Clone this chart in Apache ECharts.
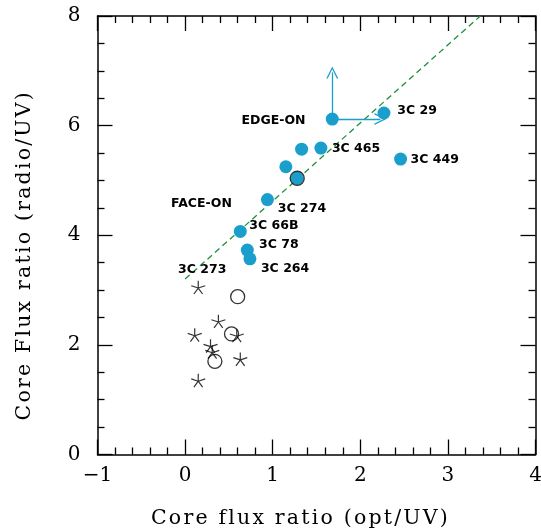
<!DOCTYPE html>
<html><head><meta charset="utf-8">
<script src="https://cdn.jsdelivr.net/npm/echarts@6/dist/echarts.min.js"></script>
<style>html,body{margin:0;padding:0;background:#fff}#c{width:541px;height:531px}</style>
</head><body><div id="c"></div>
<script>
// ---- data ----
const sourceNames = ['', '3C 29', '', '3C 465', '3C 449', '', '', '3C 274', '3C 66B', '3C 78', '3C 264'];
const sourceX = [1.68, 2.27, 1.33, 1.55, 2.46, 1.15, 1.28, 0.94, 0.63, 0.71, 0.74];
const sourceY = [6.12, 6.23, 5.57, 5.59, 5.39, 5.25, 5.04, 4.65, 4.07, 3.73, 3.57];
// limits for the first source (arrows)
const limitIndex = 0;
const limitUpY = 6.97;
const limitRightX = 2.23;

const openX = [0.60, 0.53, 0.34, 1.28];
const openY = [2.88, 2.20, 1.70, 5.04];

const starNames = ['3C 273', '', '', '', '', '', '', ''];
const starX = [0.15, 0.38, 0.11, 0.59, 0.29, 0.31, 0.63, 0.15];
const starY = [3.05, 2.43, 2.18, 2.17, 1.98, 1.87, 1.74, 1.35];

const fitX = [0.0, 3.37];
const fitY = [3.2, 8.0];

const annotations = ['EDGE-ON', 'FACE-ON'];
const annotationSource = [0, 7];

const xTicks = [-1, 0, 1, 2, 3, 4];
const yTicks = [0, 2, 4, 6, 8];

// ---- styling ----
const BLUE = '#1a9fcc';
const GREEN = '#1f8f3a';
const TITLE_FONT = 'DejaVu Serif';
const TITLE_SIZE = 20.5;
// widen only the two axis titles a little (letter spacing) to mimic the original stroke font
(function () {
  const proto = CanvasRenderingContext2D.prototype;
  if (!('letterSpacing' in proto)) return;
  const orig = proto.fillText;
  const re = /(^|\s)20\.5px/;
  proto.fillText = function (t, x, y, w) {
    const isTitle = typeof t === 'string' && t.length > 12 && re.test(this.font || '');
    this.save();
    this.letterSpacing = isTitle ? '2.2px' : '0px';
    const r = w === undefined ? orig.call(this, t, x, y) : orig.call(this, t, x, y, w);
    this.restore();
    return r;
  };
})();

const labelFont = {fontFamily: 'DejaVu Sans', fontWeight: 'bold', fontSize: 12.5, color: '#000',
  textBorderWidth: 0, textShadowBlur: 0, opacity: 1};
const labelOffsets = {
  '3C 29': [6.9, -2.3], '3C 465': [4.5, 1], '3C 449': [3.5, 1], '3C 274': [3.9, 9.3],
  '3C 66B': [2.5, -6], '3C 78': [5.2, -5], '3C 264': [4.5, 10.3]
};
const annotationOffsets = {'EDGE-ON': [-26.2, 1.7], 'FACE-ON': [-35.1, 4.3]};
const starPath = 'path://M10,10L10,0M10,10L19.51,6.91M10,10L15.88,18.09M10,10L4.12,18.09M10,10L0.49,6.91';
const chevron = 'path://M0,14L5,0L10,14L8.8,14L5,3.4L1.2,14Z';

const tickStyle = {color: '#000', width: 1.3};
function axisCommon(min, max, interval, minorSplit) {
  return {
    type: 'value', min: min, max: max, interval: interval,
    axisLine: {show: true, onZero: false, lineStyle: {color: '#000', width: 1.5}},
    axisTick: {show: true, inside: true, length: 15, lineStyle: tickStyle},
    minorTick: {show: true, splitNumber: minorSplit, length: 7, lineStyle: tickStyle},
    splitLine: {show: false}, minorSplitLine: {show: false}
  };
}
const tickLabel = {fontFamily: 'DejaVu Serif', fontSize: 20, color: '#000', showMinLabel: true, showMaxLabel: true,
  hideOverlap: false, formatter: v => String(v).replace('-', '\u2212')};
const xNameStyle = {fontFamily: TITLE_FONT, fontSize: TITLE_SIZE, color: '#000', padding: [0, 32, 0, 0]};
const yNameStyle = {fontFamily: TITLE_FONT, fontSize: TITLE_SIZE, color: '#000', padding: [0, 40, 0, 0]};

const chart = echarts.init(document.getElementById('c'));
chart.setOption({
  animation: false,
  backgroundColor: '#fff',
  grid: {left: 97.5, right: 5.5, top: 16, bottom: 76.5, containLabel: false, outerBoundsMode: 'none'},
  xAxis: [
    Object.assign(axisCommon(xTicks[0], xTicks[xTicks.length - 1], 1, 5), {
      position: 'bottom', axisLabel: Object.assign({margin: 11}, tickLabel),
      name: 'Core flux ratio (opt/UV)', nameLocation: 'middle', nameGap: 54, nameTextStyle: xNameStyle
    }),
    Object.assign(axisCommon(xTicks[0], xTicks[xTicks.length - 1], 1, 5), {
      position: 'top', axisLabel: {show: false}
    })
  ],
  yAxis: [
    Object.assign(axisCommon(yTicks[0], yTicks[yTicks.length - 1], 2, 4), {
      position: 'left', axisLabel: Object.assign({margin: 17}, tickLabel),
      name: 'Core Flux ratio (radio/UV)', nameLocation: 'middle', nameGap: 62, nameTextStyle: yNameStyle
    }),
    Object.assign(axisCommon(yTicks[0], yTicks[yTicks.length - 1], 2, 4), {
      position: 'right', axisLabel: {show: false}
    })
  ],
  series: [
    {
      type: 'scatter', silent: true, symbol: 'circle', symbolSize: 1, z: 1,
      itemStyle: {color: '#fff'},
      data: annotations.map((t, i) => ({
        name: t, value: [sourceX[annotationSource[i]], sourceY[annotationSource[i]]],
        label: Object.assign({show: true, position: 'left', distance: 0, formatter: t, offset: annotationOffsets[t]}, labelFont)
      }))
    },
    {
      type: 'line', silent: true, symbol: 'none', z: 2,
      data: fitX.map((x, i) => [x, fitY[i]]),
      lineStyle: {color: GREEN, width: 1.3, type: [6, 4]}
    },
    {
      type: 'scatter', silent: true, symbol: 'circle', symbolSize: 13, z: 3,
      itemStyle: {color: BLUE, opacity: 1},
      data: sourceNames.map((n, i) => ({
        name: n, value: [sourceX[i], sourceY[i]],
        label: n ? Object.assign({show: true, position: 'right', distance: 0, formatter: n, offset: labelOffsets[n]}, labelFont) : {show: false}
      })),
      markLine: {
        silent: true, animation: false, symbol: ['none', chevron], symbolSize: 12,
        label: {show: false},
        lineStyle: {color: BLUE, width: 1.3, type: 'solid'},
        emphasis: {disabled: true},
        data: [
          [{coord: [sourceX[limitIndex], sourceY[limitIndex]]}, {coord: [sourceX[limitIndex], limitUpY]}],
          [{coord: [sourceX[limitIndex], sourceY[limitIndex]]}, {coord: [limitRightX, sourceY[limitIndex]]}]
        ]
      }
    },
    {
      type: 'scatter', silent: true, symbol: starPath, symbolSize: 14, symbolKeepAspect: true, z: 4,
      itemStyle: {color: '#fff', borderColor: '#000', borderWidth: 1.2},
      data: starNames.map((n, i) => ({
        name: n, value: [starX[i], starY[i]],
        label: n ? Object.assign({show: true, position: 'top', distance: 0, formatter: n, offset: [4, -3.5]}, labelFont) : {show: false}
      }))
    },
    {
      type: 'scatter', silent: true, symbol: 'circle', symbolSize: 14, z: 5,
      itemStyle: {color: 'rgba(0,0,0,0)', borderColor: '#000', borderWidth: 1.3},
      data: openX.map((x, i) => [x, openY[i]])
    }
  ]
});
</script></body></html>
